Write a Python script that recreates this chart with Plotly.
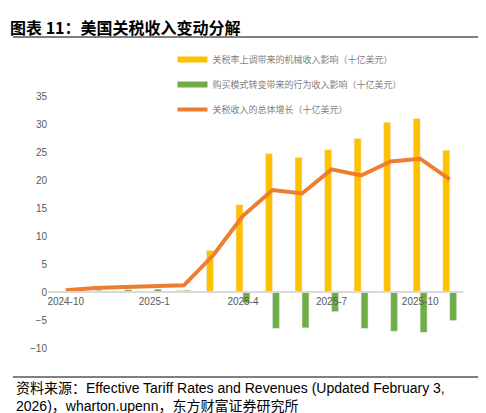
import plotly.graph_objects as go

# monthly data, 2024-10 .. 2025-11 (billion USD)
months = ['2024-10', '2024-11', '2024-12', '2025-1', '2025-2', '2025-3', '2025-4',
          '2025-5', '2025-6', '2025-7', '2025-8', '2025-9', '2025-10', '2025-11']
rate_effect = [0.1, 0, 0, 0, 0.3, 7.4, 15.6, 24.7, 24.0, 25.4, 27.4, 30.3, 31.0, 25.3]
behavior_effect = [0, 0.3, 0.4, 0.5, 0.3, -0.1, -2.0, -6.5, -6.4, -3.5, -6.5, -7.0, -7.2, -5.1]
total_growth = [0.3, 0.7, 0.9, 1.0, 1.2, 6.6, 13.6, 18.2, 17.6, 21.9, 20.8, 23.3, 23.8, 20.1]
tick_months = ['2024-10', '2025-1', '2025-4', '2025-7', '2025-10']

names = ['关税率上调带来的机械收入影响（十亿美元）',
         '购买模式转变带来的行为收入影响（十亿美元）',
         '关税收入的总体增长（十亿美元）']
colors = ['#FFC000', '#70AD47', '#ED7D31']

T, H = 88, 252  # plot top margin and height in px

fig = go.Figure()
fig.add_trace(go.Bar(x=months, y=rate_effect, marker_color=colors[0], showlegend=False))
fig.add_trace(go.Bar(x=months, y=behavior_effect, marker_color=colors[1], showlegend=False))
fig.add_trace(go.Scatter(x=months, y=total_growth, mode='lines',
                         line=dict(color=colors[2], width=4), showlegend=False))

# legend entries drawn as thick line swatches like the original
for i, (n, c) in enumerate(zip(names, colors)):
    fig.add_trace(go.Scatter(x=[None], y=[None], mode='lines', name=n,
                             line=dict(color=c, width=4 if i == 2 else 6),
                             legendgroup=str(i)))

fig.update_layout(
    width=486, height=413,
    margin=dict(l=40, r=31, t=T, b=413 - T - H),
    paper_bgcolor='white', plot_bgcolor='white',
    barmode='group', bargap=0.53, bargroupgap=0,
    font=dict(family='Noto Sans CJK SC, Liberation Sans, sans-serif', size=10, color='#595959'),
    legend=dict(x=0.3, y=1 + (T - 37) / H, xanchor='left', yanchor='top', tracegroupgap=6,
                font=dict(size=9, color='#7f7f7f'), bgcolor='rgba(0,0,0,0)'),
)
fig.update_xaxes(type='category', range=[-0.6, 13.45], tickvals=tick_months, ticktext=tick_months,
                 anchor='free', position=10 / 45, showline=True, linecolor='#d9d9d9',
                 linewidth=1.5, showgrid=False, ticks='',
                 tickfont=dict(family='Liberation Sans, sans-serif', size=10, color='#595959'))
fig.update_yaxes(range=[-10, 35], dtick=5, showgrid=False, zeroline=False, showline=False,
                 tickfont=dict(family='Liberation Sans, sans-serif', size=10, color='#595959'))

# title, rules and source
fig.add_annotation(text='<b>图表 11：美国关税收入变动分解</b>', xref='paper', yref='paper',
                   x=-40 / 415, y=1 + (T - 5) / H, xanchor='left', yanchor='top', showarrow=False,
                   font=dict(size=16, color='black', family='Noto Sans CJK SC'))
fig.add_shape(type='line', xref='paper', yref='paper', x0=-35 / 415, x1=440 / 415,
              y0=1 + (T - 29) / H, y1=1 + (T - 29) / H, line=dict(color='black', width=1))
fig.add_shape(type='line', xref='paper', yref='paper', x0=-35 / 415, x1=440 / 415,
              y0=-(369 - T - H) / H, y1=-(369 - T - H) / H, line=dict(color='black', width=1))
fig.add_annotation(text='资料来源：Effective Tariff Rates and Revenues (Updated February 3,<br>'
                        '2026)，wharton.upenn，东方财富证券研究所',
                   xref='paper', yref='paper', x=-34 / 415, y=-(370 - T - H) / H,
                   xanchor='left', yanchor='top', align='left', showarrow=False,
                   font=dict(size=14, color='black', family='Liberation Sans, Noto Sans CJK SC'))

fig.write_html('out.html')
